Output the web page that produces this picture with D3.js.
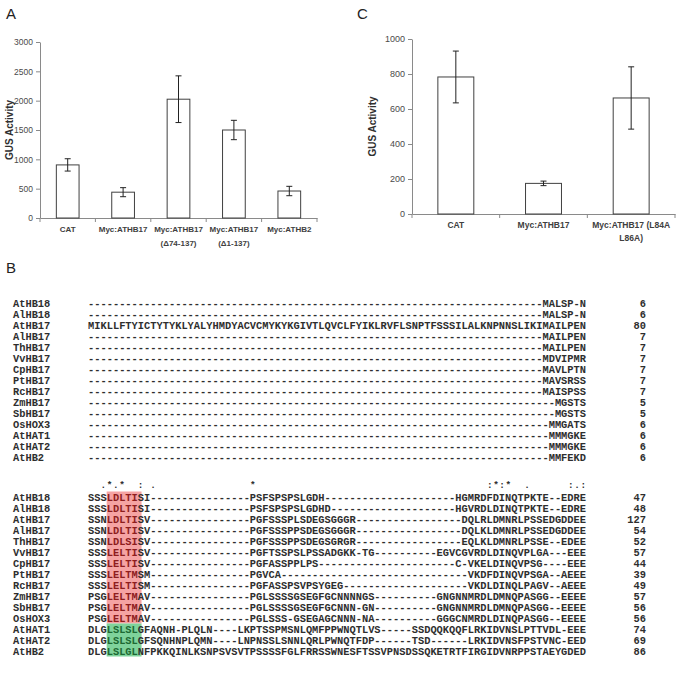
<!DOCTYPE html>
<html>
<head>
<meta charset="utf-8">
<script src="https://cdn.jsdelivr.net/npm/d3@7"></script>
<style>
body { margin: 0; background: #fff; }
</style>
</head>
<body>
<svg id="fig" width="688" height="685"></svg>
<script>
// ---- panel A data ----
let catsA = ["CAT", "Myc:ATHB17", "Myc:ATHB17\n(\u039474-137)", "Myc:ATHB17\n(\u03941-137)", "Myc:ATHB2"];
let valsA = [905, 440, 2025, 1500, 460];
let errsA = [105, 77, 398, 165, 80];
let ticksA = [0, 500, 1000, 1500, 2000, 2500, 3000];

// ---- panel C data ----
let catsC = ["CAT", "Myc:ATHB17", "Myc:ATHB17 (L84A\nL86A)"];
let valsC = [783, 175, 663];
let errsC = [148, 13, 178];
let ticksC = [0, 200, 400, 600, 800, 1000];

// ---- panel B alignment ----
let seqNames = ["AtHB18", "AlHB18", "AtHB17", "AlHB17", "ThHB17", "VvHB17", "CpHB17", "PtHB17",
                "RcHB17", "ZmHB17", "SbHB17", "OsHOX3", "AtHAT1", "AtHAT2", "AtHB2"];

// block 1: only the residues after the leading gaps (gaps fill the 80 columns)
let block1 = ["MALSP-N", "MALSP-N",
    "MIKLLFTYICTYTYKLYALYHMDYACVCMYKYKGIVTLQVCLFYIKLRVFLSNPTFSSSILALKNPNNSLIKIMAILPEN",
    "MAILPEN", "MAILPEN", "MDVIPMR", "MAVLPTN", "MAVSRSS", "MAISPSS",
    "MGSTS", "MGSTS", "MMGATS", "MMMGKE", "MMMGKE", "MMFEKD"];
let counts1 = [6, 6, 80, 7, 7, 7, 7, 7, 7, 5, 5, 6, 6, 6, 6];

let block2 = [
    "SSSLDLTISI----------------PSFSPSPSLGDH---------------------HGMRDFDINQTPKTE--EDRE",
    "SSSLDLTISI----------------PSFSPSPSLGDHD--------------------HGVRDLDINQTPKTE--EDRE",
    "SSNLDLTISV----------------PGFSSSPLSDEGSGGGR-----------------DQLRLDMNRLPSSEDGDDEE",
    "SSNLDLTISV----------------PGFSSSPPSDEGSGGGR-----------------DQLKLDMNRLPSSEDGDDEE",
    "SSNLDLSISV----------------PGFSSSPPSDEGSGRGR-----------------EQLKLDMNRLPSSE--EDEE",
    "SSSLELTISV----------------PGFTSSPSLPSSADGKK-TG----------EGVCGVRDLDINQVPLGA---EEE",
    "SSSLELTISV----------------PGFASSPPLPS----------------------C-VKELDINQVPSG----EEE",
    "SSSLELTMSM----------------PGVCA------------------------------VKDFDINQVPSGA--AEEE",
    "SSSLELTISM----------------PGFASSPSVPSYGEG--------------------VKDLDINQLPAGV--AEEE",
    "PSGLELTMAV----------------PGLSSSSGSEGFGCNNNNGS----------GNGNNMRDLDMNQPASGG--EEEE",
    "PSGLELTMAV----------------PGLSSSSGSEGFGCNNN-GN----------GNGNNMRDLDMNQPASGG--EEEE",
    "PSGLELTMAV----------------PGLSSS-GSEGAGCNNN-NA----------GGGCNMRDLDINQPASGG--EEEE",
    "DLGLSLSLGFAQNH-PLQLN----LKPTSSPMSNLQMFPPWNQTLVS-----SSDQQKQQFLRKIDVNSLPTTVDL-EEE",
    "DLGLSLSLGFSQNHNPLQMN----LNPNSSLSNNLQRLPWNQTFDP------TSD------LRKIDVNSFPSTVNC-EED",
    "DLGLSLGLNFPKKQINLKSNPSVSVTPSSSSFGLFRRSSWNESFTSSVPNSDSSQKETRTFIRGIDVNRPPSTAEYGDED"
];
let counts2 = [47, 48, 127, 54, 52, 57, 44, 39, 49, 57, 56, 56, 74, 69, 86];

// conservation symbols above block 2 (1-based column, symbol)
let consCols = [3, 4, 5, 6, 9, 11, 27, 65, 66, 67, 68, 71, 78, 79, 80];
let consSyms = [".", "*", ".", "*", ":", ".", "*", ":", "*", ":", "*", ".", ":", ".", ":"];

// motif group of each sequence (0 = LxLxL red box, 1 = LSLSL green box)
let motifGroup = [0, 0, 0, 0, 0, 0, 0, 0, 0, 0, 0, 0, 1, 1, 1];

let ncol = 80;
block2.forEach(function (s, i) {
    if (s.length !== ncol) throw new Error("block2 row " + i + " length " + s.length);
});

let svg = d3.select("#fig");
let axis_color = "#8a8a8a";
let sans = "'Liberation Sans', Arial, sans-serif";
let mono = "'Liberation Mono', 'Courier New', monospace";

function panel_letter(txt, x, y) {
    svg.append("text").attr("x", x).attr("y", y).text(txt)
        .style("font-family", sans).style("font-size", "15px").attr("fill", "#222");
}

function draw_bar_chart(cfg) {
    let g = svg.append("g");
    let x = d3.scaleBand().domain(cfg.cats).range([cfg.left, cfg.right]);
    let y = d3.scaleLinear().domain([0, cfg.max]).range([cfg.bottom, cfg.top]);
    let bw = x.bandwidth() * cfg.barFrac;

    let ya = g.append("g").attr("transform", "translate(" + cfg.left + ",0)")
        .call(d3.axisLeft(y).tickValues(cfg.ticks).tickFormat(d3.format("d"))
            .tickSize(4).tickSizeOuter(0).tickPadding(3));
    ya.select(".domain").attr("stroke", axis_color);
    ya.selectAll(".tick line").attr("stroke", axis_color);
    ya.selectAll(".tick text").attr("fill", "#4a4a4a")
        .style("font-family", sans).style("font-size", cfg.tickFont + "px");

    let xa = g.append("g").attr("transform", "translate(0," + cfg.bottom + ")")
        .call(d3.axisBottom(x).tickSize(0).tickSizeOuter(0).tickFormat(""));
    xa.select(".domain").attr("stroke", axis_color);

    // category boundary ticks
    let bounds = cfg.cats.map(function (c) { return x(c); }).concat([cfg.right]);
    g.selectAll(".bound").data(bounds).enter().append("line")
        .attr("x1", function (d) { return d; }).attr("x2", function (d) { return d; })
        .attr("y1", cfg.bottom).attr("y2", cfg.bottom + 4)
        .attr("stroke", axis_color);

    g.selectAll(".bar").data(cfg.vals).enter().append("rect")
        .attr("x", function (d, i) { return x(cfg.cats[i]) + (x.bandwidth() - bw) / 2; })
        .attr("y", function (d) { return y(d); })
        .attr("width", bw)
        .attr("height", function (d) { return cfg.bottom - y(d); })
        .attr("fill", "#fff").attr("stroke", "#404040").attr("stroke-width", 1);

    let eb = g.selectAll(".err").data(cfg.vals).enter().append("g");
    let cx = function (i) { return x(cfg.cats[i]) + x.bandwidth() / 2; };
    eb.append("line")
        .attr("x1", function (d, i) { return cx(i); }).attr("x2", function (d, i) { return cx(i); })
        .attr("y1", function (d, i) { return y(d + cfg.errs[i]); })
        .attr("y2", function (d, i) { return y(d - cfg.errs[i]); })
        .attr("stroke", "#222");
    [1, -1].forEach(function (sg) {
        eb.append("line")
            .attr("x1", function (d, i) { return cx(i) - 3; }).attr("x2", function (d, i) { return cx(i) + 3; })
            .attr("y1", function (d, i) { return y(d + sg * cfg.errs[i]); })
            .attr("y2", function (d, i) { return y(d + sg * cfg.errs[i]); })
            .attr("stroke", "#222");
    });

    let lab = g.selectAll(".xlab").data(cfg.cats).enter().append("text")
        .attr("text-anchor", "middle")
        .attr("fill", "#404040")
        .style("font-family", sans).style("font-weight", "bold").style("font-size", cfg.labFont + "px");
    lab.each(function (d) {
        let t = d3.select(this);
        d.split("\n").forEach(function (line, k) {
            t.append("tspan").attr("x", x(d) + x.bandwidth() / 2)
                .attr("y", cfg.bottom + cfg.labDy + k * cfg.labLine).text(line);
        });
    });

    g.append("text")
        .attr("transform", "translate(" + cfg.ylabX + "," + (cfg.top + cfg.bottom) / 2 + ") rotate(-90)")
        .attr("text-anchor", "middle")
        .attr("fill", "#303030")
        .style("font-family", sans).style("font-weight", "bold").style("font-size", cfg.ylabFont + "px")
        .text("GUS Activity");
}

panel_letter("A", 6, 19);
draw_bar_chart({
    cats: catsA, vals: valsA, errs: errsA, ticks: ticksA, max: 3000,
    left: 40, right: 317, top: 42, bottom: 218, barFrac: 0.41,
    tickFont: 8.5, labFont: 8, labDy: 14, labLine: 14, ylabX: 13, ylabFont: 10
});

panel_letter("C", 357, 19);
draw_bar_chart({
    cats: catsC, vals: valsC, errs: errsC, ticks: ticksC, max: 1000,
    left: 412, right: 675, top: 39, bottom: 214, barFrac: 0.41,
    tickFont: 9, labFont: 8.5, labDy: 14, labLine: 13, ylabX: 376, ylabFont: 10
});

// ---- panel B ----
panel_letter("B", 6, 273);

let seqX0 = 88, seqX1 = 586;
let col = d3.scaleLinear().domain([0, ncol]).range([seqX0, seqX1]);
let cw = col(1) - col(0);
let fs = cw / 0.6;
let rowY1 = d3.scaleLinear().domain([0, seqNames.length - 1]).range([303, 457]);
let rowY2 = d3.scaleLinear().domain([0, seqNames.length - 1]).range([497, 651]);
let text_color = "#2e2e2e";

function mono_text(sel) {
    return sel.style("font-family", mono).style("font-weight", "bold")
        .style("font-size", fs + "px").attr("fill", text_color).attr("dy", "0.35em");
}

let gb = svg.append("g");

// motif boxes (block 2)
let motifFill = ["#f5a3a3", "#7fd39b"];
let motifInk = ["#8e1d1d", "#1d6a33"];
[0, 1].forEach(function (m) {
    let rows = motifGroup.map(function (g, i) { return g === m ? i : -1; }).filter(function (i) { return i >= 0; });
    gb.append("rect")
        .attr("x", col(3)).attr("width", col(8.6) - col(3))
        .attr("y", rowY2(d3.min(rows)) - 5.5)
        .attr("height", rowY2(d3.max(rows)) - rowY2(d3.min(rows)) + 11)
        .attr("fill", motifFill[m]);
});

// block 1
seqNames.forEach(function (name, i) {
    mono_text(gb.append("text").attr("x", 13).attr("y", rowY1(i))).text(name);
    mono_text(gb.append("text").attr("x", col(0)).attr("y", rowY1(i)))
        .attr("textLength", col(ncol) - col(0)).attr("lengthAdjust", "spacing")
        .text(block1[i].padStart(ncol, "-"));
    mono_text(gb.append("text").attr("x", 646).attr("y", rowY1(i)).attr("text-anchor", "end")).text(counts1[i]);
});

// conservation line, one string over the 80 columns
let consLine = new Array(ncol).fill(" ");
consCols.forEach(function (c, k) { consLine[c - 1] = consSyms[k]; });
let consStr = consLine.join("");
mono_text(gb.append("text").attr("x", col(0)).attr("y", 485))
    .style("font-size", (fs * 0.9) + "px")
    .style("white-space", "pre").attr("xml:space", "preserve")
    .attr("textLength", col(consStr.trimEnd().length) - col(0)).attr("lengthAdjust", "spacing")
    .text(consStr.slice(0, consStr.trimEnd().length));

// block 2
seqNames.forEach(function (name, i) {
    let s = block2[i];
    mono_text(gb.append("text").attr("x", 13).attr("y", rowY2(i))).text(name);
    let t = mono_text(gb.append("text").attr("x", col(0)).attr("y", rowY2(i)))
        .attr("textLength", col(ncol) - col(0)).attr("lengthAdjust", "spacing");
    t.append("tspan").text(s.slice(0, 3));
    t.append("tspan").attr("fill", motifInk[motifGroup[i]]).text(s.slice(3, 8));
    t.append("tspan").text(s.slice(8));
    mono_text(gb.append("text").attr("x", 646).attr("y", rowY2(i)).attr("text-anchor", "end")).text(counts2[i]);
});
</script>
</body>
</html>
